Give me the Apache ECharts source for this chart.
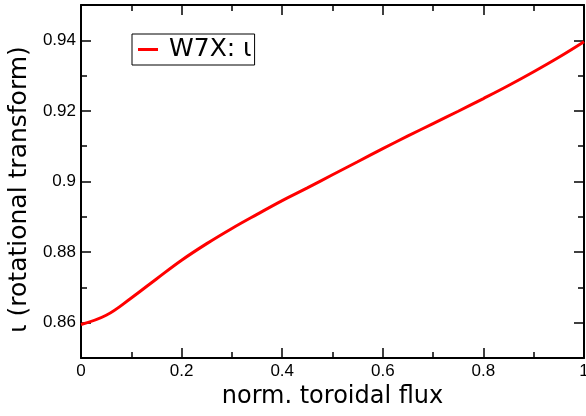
<!DOCTYPE html>
<html>
<head>
<meta charset="utf-8">
<script src="https://cdn.jsdelivr.net/npm/echarts@6/dist/echarts.min.js"></script>
<style>html,body{margin:0;padding:0;background:#fff}#c{width:586px;height:416px}</style>
</head>
<body>
<div id="c"></div>
<script>
const flux = [0, 0.05, 0.1, 0.15, 0.2, 0.25, 0.3, 0.35, 0.4, 0.45, 0.5, 0.55, 0.6, 0.65, 0.7, 0.75, 0.8, 0.85, 0.9, 0.95, 1.0];
const iota = [0.8595, 0.8621, 0.8670, 0.8724, 0.8777, 0.8824, 0.8867, 0.8907, 0.8946, 0.8982, 0.9019, 0.9056, 0.9093, 0.9129, 0.9164, 0.9199, 0.9235, 0.9272, 0.9311, 0.9352, 0.9396];
const yMajor = [0.86, 0.88, 0.9, 0.92, 0.94];
const yMinor = [0.87, 0.89, 0.91, 0.93];
const seriesName = 'W7X: ι';
const xTitle = 'norm. toroidal flux';
const yTitle = 'ι (rotational transform)';

const font = 'Liberation Sans, Arial, Helvetica, sans-serif';
const bigFont = 'DejaVu Sans, sans-serif';
const axisLine = {show: true, lineStyle: {color: '#000', width: 2}};
const tickStyle = {color: '#000', width: 1.5};

function xAx(pos, labels) {
  return {
    type: 'value', position: pos, min: 0, max: 1, interval: 0.2,
    name: labels ? xTitle : '', nameLocation: 'middle', nameGap: 23,
    nameTextStyle: {fontFamily: bigFont, fontSize: 24, color: '#000'},
    axisLine: axisLine,
    axisTick: {show: true, inside: true, length: 10, lineStyle: tickStyle},
    minorTick: {show: true, splitNumber: 2, length: 6, lineStyle: tickStyle},
    axisLabel: {show: labels, fontFamily: font, fontSize: 17, color: '#000', margin: 5},
    splitLine: {show: false}, minorSplitLine: {show: false}
  };
}
function yAx(pos, vals, len, labels, line, name) {
  return {
    type: 'value', position: pos, min: 0.85, max: 0.95,
    name: name || '', nameLocation: 'middle', nameGap: 35,
    nameTextStyle: {fontFamily: bigFont, fontSize: 25, color: '#000', padding: [0, 16, 0, 0]},
    axisLine: line ? axisLine : {show: false},
    axisTick: {show: true, inside: true, length: len, lineStyle: tickStyle, customValues: vals},
    axisLabel: {show: labels, fontFamily: font, fontSize: 17, color: '#000', margin: 5, customValues: vals},
    splitLine: {show: false}
  };
}

const chart = echarts.init(document.getElementById('c'));
chart.setOption({
  animation: false,
  backgroundColor: '#fff',
  grid: {left: 81, right: 2, top: 5, bottom: 58, containLabel: false, outerBoundsMode: 'none'},
  legend: {
    show: true, left: 132, top: 34, orient: 'horizontal',
    data: [{name: seriesName, icon: 'rect'}],
    itemWidth: 20, itemHeight: 3, itemGap: 11,
    borderColor: '#000', borderWidth: 1, borderRadius: 0,
    padding: [3, 3, 3, 6],
    textStyle: {fontFamily: bigFont, fontSize: 25, color: '#000', padding: [0, 0, 0, 6]}
  },
  xAxis: [xAx('bottom', true), xAx('top', false)],
  yAxis: [
    yAx('left', yMajor, 10, true, true, yTitle),
    yAx('left', yMinor, 6, false, false),
    yAx('right', yMajor, 10, false, true),
    yAx('right', yMinor, 6, false, false)
  ],
  series: [{
    name: seriesName, type: 'line', xAxisIndex: 0, yAxisIndex: 0,
    data: flux.map((f, i) => [f, iota[i]]),
    smooth: 0.4, symbol: 'none',
    lineStyle: {color: '#ff0000', width: 3},
    itemStyle: {color: '#ff0000'}
  }]
});
</script>
</body>
</html>
